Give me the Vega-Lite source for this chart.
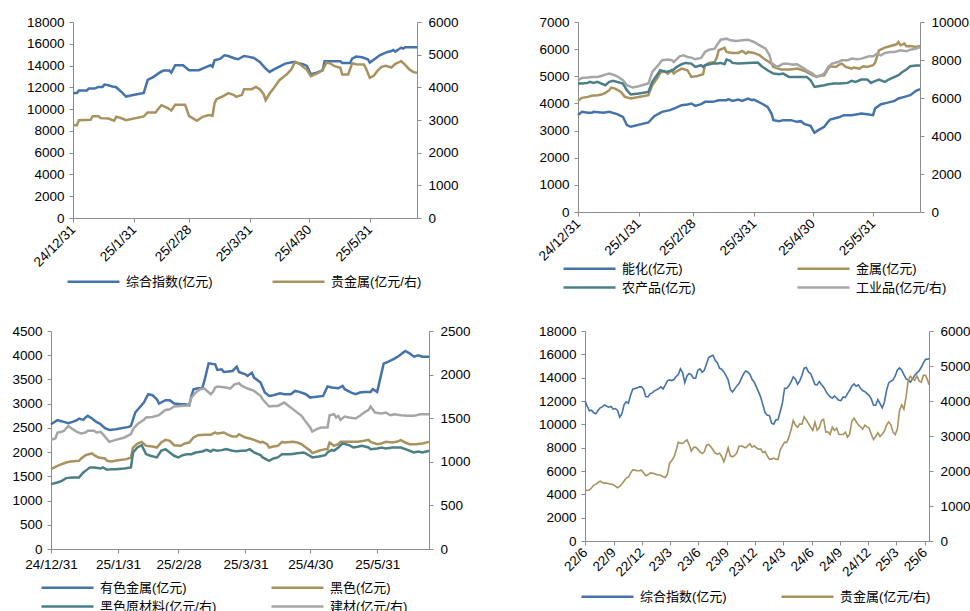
{
  "$schema": "https://vega.github.io/schema/vega-lite/v6.json",
  "background": "white",
  "padding": {"left": 8, "top": 15, "right": 0, "bottom": 0},
  "config": {
    "view": {"stroke": null},
    "font": "Liberation Sans",
    "axis": {"grid": false, "labelFont": "Liberation Sans", "labelFontSize": 13.5, "labelColor": "#000000", "domainColor": "#8C8C8C", "tickColor": "#8C8C8C", "tickSize": 4, "labelFlush": false, "labelOverlap": false},
    "legend": {"orient": "none", "columns": 2, "symbolType": "stroke", "symbolSize": 2704, "symbolStrokeWidth": 2.5, "clipHeight": 13, "labelFontSize": 13, "labelFont": "Liberation Sans, Noto Sans CJK SC", "labelColor": "#000000", "labelOffset": 5, "rowPadding": 5, "padding": 0, "labelLimit": 300}
  },
  "datasets": {
    "p1a": [{"date":"2024-12-31","value":11490},{"date":"2025-01-02","value":11490},{"date":"2025-01-03","value":11700},{"date":"2025-01-07","value":11700},{"date":"2025-01-08","value":11890},{"date":"2025-01-11","value":11890},{"date":"2025-01-13","value":12040},{"date":"2025-01-15","value":12040},{"date":"2025-01-16","value":12250},{"date":"2025-01-18","value":12190},{"date":"2025-01-20","value":12070},{"date":"2025-01-22","value":12010},{"date":"2025-01-25","value":11520},{"date":"2025-01-27","value":11150},{"date":"2025-01-30","value":11280},{"date":"2025-02-05","value":11490},{"date":"2025-02-07","value":12680},{"date":"2025-02-10","value":12960},{"date":"2025-02-13","value":13350},{"date":"2025-02-15","value":13540},{"date":"2025-02-18","value":13540},{"date":"2025-02-19","value":13350},{"date":"2025-02-21","value":14030},{"date":"2025-02-25","value":14030},{"date":"2025-02-28","value":13570},{"date":"2025-03-05","value":13570},{"date":"2025-03-08","value":13810},{"date":"2025-03-11","value":14030},{"date":"2025-03-12","value":13900},{"date":"2025-03-13","value":14480},{"date":"2025-03-16","value":14640},{"date":"2025-03-18","value":14940},{"date":"2025-03-20","value":14880},{"date":"2025-03-23","value":14670},{"date":"2025-03-25","value":14580},{"date":"2025-03-28","value":14880},{"date":"2025-03-30","value":14820},{"date":"2025-04-02","value":14700},{"date":"2025-04-05","value":14330},{"date":"2025-04-08","value":13720},{"date":"2025-04-10","value":13420},{"date":"2025-04-13","value":13720},{"date":"2025-04-16","value":14000},{"date":"2025-04-18","value":14180},{"date":"2025-04-22","value":14330},{"date":"2025-04-27","value":14120},{"date":"2025-04-29","value":13970},{"date":"2025-05-01","value":13200},{"date":"2025-05-04","value":13350},{"date":"2025-05-07","value":13570},{"date":"2025-05-08","value":14390},{"date":"2025-05-16","value":14390},{"date":"2025-05-17","value":14240},{"date":"2025-05-21","value":14240},{"date":"2025-05-22","value":14640},{"date":"2025-05-24","value":14820},{"date":"2025-05-27","value":14760},{"date":"2025-05-30","value":14580},{"date":"2025-05-31","value":14270},{"date":"2025-06-03","value":14670},{"date":"2025-06-05","value":14940},{"date":"2025-06-09","value":15250},{"date":"2025-06-11","value":15340},{"date":"2025-06-12","value":15430},{"date":"2025-06-13","value":15280},{"date":"2025-06-16","value":15650},{"date":"2025-06-17","value":15560},{"date":"2025-06-18","value":15680},{"date":"2025-06-24","value":15680}],
    "p1b": [{"date":"2024-12-31","value":2843},{"date":"2025-01-02","value":2843},{"date":"2025-01-03","value":2996},{"date":"2025-01-09","value":3006},{"date":"2025-01-10","value":3118},{"date":"2025-01-13","value":3118},{"date":"2025-01-14","value":3057},{"date":"2025-01-18","value":3047},{"date":"2025-01-21","value":2976},{"date":"2025-01-22","value":3098},{"date":"2025-01-24","value":3067},{"date":"2025-01-27","value":2996},{"date":"2025-02-05","value":3108},{"date":"2025-02-07","value":3230},{"date":"2025-02-11","value":3230},{"date":"2025-02-12","value":3312},{"date":"2025-02-14","value":3454},{"date":"2025-02-17","value":3373},{"date":"2025-02-19","value":3291},{"date":"2025-02-21","value":3465},{"date":"2025-02-26","value":3465},{"date":"2025-02-27","value":3302},{"date":"2025-02-28","value":3128},{"date":"2025-03-04","value":2976},{"date":"2025-03-07","value":3098},{"date":"2025-03-10","value":3149},{"date":"2025-03-12","value":3128},{"date":"2025-03-13","value":3516},{"date":"2025-03-14","value":3638},{"date":"2025-03-17","value":3719},{"date":"2025-03-20","value":3821},{"date":"2025-03-23","value":3760},{"date":"2025-03-24","value":3709},{"date":"2025-03-27","value":3770},{"date":"2025-03-28","value":3944},{"date":"2025-04-01","value":3944},{"date":"2025-04-03","value":4015},{"date":"2025-04-05","value":3944},{"date":"2025-04-07","value":3791},{"date":"2025-04-08","value":3607},{"date":"2025-04-10","value":3811},{"date":"2025-04-12","value":3964},{"date":"2025-04-15","value":4219},{"date":"2025-04-19","value":4412},{"date":"2025-04-21","value":4545},{"date":"2025-04-23","value":4779},{"date":"2025-04-25","value":4728},{"date":"2025-04-27","value":4626},{"date":"2025-04-29","value":4535},{"date":"2025-05-01","value":4341},{"date":"2025-05-04","value":4422},{"date":"2025-05-07","value":4525},{"date":"2025-05-09","value":4759},{"date":"2025-05-11","value":4728},{"date":"2025-05-13","value":4647},{"date":"2025-05-16","value":4596},{"date":"2025-05-17","value":4392},{"date":"2025-05-20","value":4392},{"date":"2025-05-22","value":4738},{"date":"2025-05-24","value":4708},{"date":"2025-05-28","value":4698},{"date":"2025-05-29","value":4586},{"date":"2025-05-31","value":4290},{"date":"2025-06-02","value":4351},{"date":"2025-06-04","value":4514},{"date":"2025-06-06","value":4626},{"date":"2025-06-08","value":4657},{"date":"2025-06-11","value":4606},{"date":"2025-06-13","value":4718},{"date":"2025-06-16","value":4799},{"date":"2025-06-18","value":4687},{"date":"2025-06-20","value":4555},{"date":"2025-06-22","value":4473},{"date":"2025-06-24","value":4443}],
    "p2a": [{"date":"2024-12-31","value":3568},{"date":"2025-01-02","value":3690},{"date":"2025-01-05","value":3653},{"date":"2025-01-07","value":3653},{"date":"2025-01-08","value":3690},{"date":"2025-01-13","value":3653},{"date":"2025-01-16","value":3690},{"date":"2025-01-20","value":3604},{"date":"2025-01-23","value":3506},{"date":"2025-01-25","value":3200},{"date":"2025-01-27","value":3139},{"date":"2025-02-05","value":3298},{"date":"2025-02-08","value":3531},{"date":"2025-02-12","value":3690},{"date":"2025-02-16","value":3752},{"date":"2025-02-19","value":3837},{"date":"2025-02-22","value":3935},{"date":"2025-02-25","value":3960},{"date":"2025-02-27","value":3997},{"date":"2025-03-01","value":3911},{"date":"2025-03-04","value":3972},{"date":"2025-03-06","value":4058},{"date":"2025-03-10","value":4058},{"date":"2025-03-13","value":4119},{"date":"2025-03-17","value":4119},{"date":"2025-03-18","value":4156},{"date":"2025-03-20","value":4095},{"date":"2025-03-23","value":4144},{"date":"2025-03-25","value":4095},{"date":"2025-03-28","value":4181},{"date":"2025-03-30","value":4119},{"date":"2025-03-31","value":4144},{"date":"2025-04-04","value":3997},{"date":"2025-04-07","value":3874},{"date":"2025-04-09","value":3629},{"date":"2025-04-10","value":3384},{"date":"2025-04-13","value":3347},{"date":"2025-04-15","value":3384},{"date":"2025-04-19","value":3384},{"date":"2025-04-22","value":3322},{"date":"2025-04-24","value":3347},{"date":"2025-04-26","value":3237},{"date":"2025-04-29","value":3175},{"date":"2025-05-01","value":2918},{"date":"2025-05-03","value":3016},{"date":"2025-05-06","value":3139},{"date":"2025-05-08","value":3322},{"date":"2025-05-09","value":3408},{"date":"2025-05-13","value":3482},{"date":"2025-05-14","value":3506},{"date":"2025-05-16","value":3568},{"date":"2025-05-20","value":3568},{"date":"2025-05-23","value":3604},{"date":"2025-05-25","value":3629},{"date":"2025-05-28","value":3604},{"date":"2025-05-31","value":3568},{"date":"2025-06-01","value":3813},{"date":"2025-06-04","value":3972},{"date":"2025-06-07","value":4021},{"date":"2025-06-11","value":4095},{"date":"2025-06-13","value":4181},{"date":"2025-06-16","value":4242},{"date":"2025-06-19","value":4303},{"date":"2025-06-22","value":4463},{"date":"2025-06-24","value":4524}],
    "p2b": [{"date":"2024-12-31","value":4095},{"date":"2025-01-02","value":4205},{"date":"2025-01-05","value":4242},{"date":"2025-01-07","value":4279},{"date":"2025-01-10","value":4303},{"date":"2025-01-12","value":4328},{"date":"2025-01-14","value":4389},{"date":"2025-01-16","value":4487},{"date":"2025-01-17","value":4585},{"date":"2025-01-19","value":4548},{"date":"2025-01-22","value":4426},{"date":"2025-01-24","value":4242},{"date":"2025-01-27","value":4181},{"date":"2025-02-05","value":4303},{"date":"2025-02-07","value":4671},{"date":"2025-02-10","value":4978},{"date":"2025-02-11","value":5125},{"date":"2025-02-13","value":5198},{"date":"2025-02-15","value":5100},{"date":"2025-02-17","value":5223},{"date":"2025-02-18","value":5100},{"date":"2025-02-19","value":5161},{"date":"2025-02-22","value":5284},{"date":"2025-02-25","value":5223},{"date":"2025-02-27","value":4978},{"date":"2025-03-02","value":5014},{"date":"2025-03-05","value":5076},{"date":"2025-03-06","value":5407},{"date":"2025-03-08","value":5492},{"date":"2025-03-11","value":5529},{"date":"2025-03-12","value":5689},{"date":"2025-03-13","value":5958},{"date":"2025-03-16","value":6044},{"date":"2025-03-17","value":5897},{"date":"2025-03-20","value":5860},{"date":"2025-03-23","value":5860},{"date":"2025-03-25","value":5934},{"date":"2025-03-27","value":5836},{"date":"2025-03-28","value":5897},{"date":"2025-03-31","value":5860},{"date":"2025-04-03","value":5774},{"date":"2025-04-05","value":5652},{"date":"2025-04-09","value":5468},{"date":"2025-04-10","value":5345},{"date":"2025-04-14","value":5247},{"date":"2025-04-16","value":5247},{"date":"2025-04-19","value":5247},{"date":"2025-04-22","value":5284},{"date":"2025-04-25","value":5223},{"date":"2025-04-27","value":5161},{"date":"2025-04-30","value":5039},{"date":"2025-05-02","value":4978},{"date":"2025-05-03","value":5014},{"date":"2025-05-06","value":5039},{"date":"2025-05-08","value":5284},{"date":"2025-05-09","value":5370},{"date":"2025-05-12","value":5345},{"date":"2025-05-14","value":5443},{"date":"2025-05-15","value":5468},{"date":"2025-05-17","value":5345},{"date":"2025-05-20","value":5284},{"date":"2025-05-21","value":5321},{"date":"2025-05-24","value":5284},{"date":"2025-05-26","value":5370},{"date":"2025-05-28","value":5345},{"date":"2025-05-31","value":5407},{"date":"2025-06-01","value":5492},{"date":"2025-06-03","value":5958},{"date":"2025-06-06","value":6056},{"date":"2025-06-09","value":6118},{"date":"2025-06-12","value":6179},{"date":"2025-06-13","value":6265},{"date":"2025-06-14","value":6142},{"date":"2025-06-16","value":6204},{"date":"2025-06-17","value":6105},{"date":"2025-06-19","value":6118},{"date":"2025-06-22","value":6081},{"date":"2025-06-24","value":6118}],
    "p2c": [{"date":"2024-12-31","value":4732},{"date":"2025-01-02","value":4732},{"date":"2025-01-05","value":4757},{"date":"2025-01-06","value":4794},{"date":"2025-01-08","value":4757},{"date":"2025-01-10","value":4794},{"date":"2025-01-12","value":4732},{"date":"2025-01-14","value":4671},{"date":"2025-01-16","value":4794},{"date":"2025-01-18","value":4830},{"date":"2025-01-20","value":4794},{"date":"2025-01-23","value":4732},{"date":"2025-01-25","value":4487},{"date":"2025-01-27","value":4328},{"date":"2025-01-31","value":4365},{"date":"2025-02-05","value":4426},{"date":"2025-02-07","value":4794},{"date":"2025-02-10","value":5100},{"date":"2025-02-11","value":5223},{"date":"2025-02-14","value":5161},{"date":"2025-02-16","value":5198},{"date":"2025-02-18","value":5247},{"date":"2025-02-19","value":5321},{"date":"2025-02-22","value":5443},{"date":"2025-02-24","value":5492},{"date":"2025-02-27","value":5468},{"date":"2025-03-01","value":5345},{"date":"2025-03-04","value":5407},{"date":"2025-03-05","value":5345},{"date":"2025-03-06","value":5407},{"date":"2025-03-10","value":5468},{"date":"2025-03-12","value":5468},{"date":"2025-03-14","value":5492},{"date":"2025-03-16","value":5443},{"date":"2025-03-17","value":5615},{"date":"2025-03-19","value":5566},{"date":"2025-03-20","value":5492},{"date":"2025-03-23","value":5468},{"date":"2025-03-28","value":5492},{"date":"2025-04-02","value":5505},{"date":"2025-04-04","value":5370},{"date":"2025-04-07","value":5223},{"date":"2025-04-10","value":5100},{"date":"2025-04-13","value":5076},{"date":"2025-04-15","value":5100},{"date":"2025-04-18","value":4978},{"date":"2025-04-20","value":4978},{"date":"2025-04-24","value":4978},{"date":"2025-04-27","value":4978},{"date":"2025-04-29","value":4855},{"date":"2025-05-01","value":4610},{"date":"2025-05-03","value":4634},{"date":"2025-05-06","value":4671},{"date":"2025-05-08","value":4708},{"date":"2025-05-11","value":4732},{"date":"2025-05-14","value":4732},{"date":"2025-05-18","value":4757},{"date":"2025-05-20","value":4830},{"date":"2025-05-22","value":4794},{"date":"2025-05-25","value":4880},{"date":"2025-05-28","value":4880},{"date":"2025-05-30","value":4757},{"date":"2025-05-31","value":4794},{"date":"2025-06-03","value":4880},{"date":"2025-06-06","value":4794},{"date":"2025-06-08","value":4880},{"date":"2025-06-11","value":4978},{"date":"2025-06-13","value":5039},{"date":"2025-06-15","value":5161},{"date":"2025-06-17","value":5247},{"date":"2025-06-19","value":5370},{"date":"2025-06-22","value":5394},{"date":"2025-06-24","value":5394}],
    "p2d": [{"date":"2024-12-31","value":6934},{"date":"2025-01-02","value":7059},{"date":"2025-01-05","value":7074},{"date":"2025-01-07","value":7109},{"date":"2025-01-10","value":7109},{"date":"2025-01-12","value":7161},{"date":"2025-01-14","value":7232},{"date":"2025-01-16","value":7284},{"date":"2025-01-18","value":7232},{"date":"2025-01-20","value":7144},{"date":"2025-01-23","value":6934},{"date":"2025-01-25","value":6671},{"date":"2025-01-28","value":6549},{"date":"2025-01-31","value":6619},{"date":"2025-02-05","value":6759},{"date":"2025-02-07","value":7372},{"date":"2025-02-10","value":7722},{"date":"2025-02-12","value":7985},{"date":"2025-02-15","value":8020},{"date":"2025-02-17","value":7985},{"date":"2025-02-18","value":7897},{"date":"2025-02-21","value":8195},{"date":"2025-02-23","value":8247},{"date":"2025-02-25","value":8160},{"date":"2025-02-27","value":8125},{"date":"2025-03-01","value":8037},{"date":"2025-03-04","value":8107},{"date":"2025-03-06","value":8422},{"date":"2025-03-08","value":8545},{"date":"2025-03-11","value":8597},{"date":"2025-03-12","value":8773},{"date":"2025-03-14","value":9070},{"date":"2025-03-17","value":9123},{"date":"2025-03-19","value":9035},{"date":"2025-03-22","value":9000},{"date":"2025-03-25","value":9035},{"date":"2025-03-28","value":9070},{"date":"2025-03-31","value":8948},{"date":"2025-04-03","value":8773},{"date":"2025-04-06","value":8597},{"date":"2025-04-08","value":8247},{"date":"2025-04-09","value":7844},{"date":"2025-04-12","value":7634},{"date":"2025-04-15","value":7809},{"date":"2025-04-17","value":7809},{"date":"2025-04-20","value":7757},{"date":"2025-04-22","value":7774},{"date":"2025-04-25","value":7599},{"date":"2025-04-27","value":7459},{"date":"2025-04-30","value":7284},{"date":"2025-05-02","value":7109},{"date":"2025-05-03","value":7144},{"date":"2025-05-06","value":7284},{"date":"2025-05-08","value":7634},{"date":"2025-05-10","value":7809},{"date":"2025-05-13","value":7897},{"date":"2025-05-15","value":7985},{"date":"2025-05-18","value":7985},{"date":"2025-05-20","value":8072},{"date":"2025-05-23","value":8037},{"date":"2025-05-25","value":8072},{"date":"2025-05-29","value":8195},{"date":"2025-05-31","value":8195},{"date":"2025-06-02","value":8335},{"date":"2025-06-04","value":8247},{"date":"2025-06-06","value":8370},{"date":"2025-06-09","value":8422},{"date":"2025-06-11","value":8422},{"date":"2025-06-14","value":8510},{"date":"2025-06-17","value":8457},{"date":"2025-06-19","value":8545},{"date":"2025-06-22","value":8597},{"date":"2025-06-24","value":8685}],
    "p3a": [{"date":"2024-12-31","value":2576},{"date":"2025-01-03","value":2659},{"date":"2025-01-06","value":2624},{"date":"2025-01-08","value":2597},{"date":"2025-01-10","value":2624},{"date":"2025-01-12","value":2659},{"date":"2025-01-13","value":2693},{"date":"2025-01-15","value":2666},{"date":"2025-01-16","value":2714},{"date":"2025-01-17","value":2748},{"date":"2025-01-19","value":2693},{"date":"2025-01-21","value":2624},{"date":"2025-01-23","value":2576},{"date":"2025-01-25","value":2494},{"date":"2025-01-27","value":2459},{"date":"2025-01-30","value":2473},{"date":"2025-02-05","value":2521},{"date":"2025-02-06","value":2542},{"date":"2025-02-08","value":2817},{"date":"2025-02-10","value":2920},{"date":"2025-02-12","value":3023},{"date":"2025-02-14","value":3195},{"date":"2025-02-16","value":3174},{"date":"2025-02-18","value":3092},{"date":"2025-02-19","value":3002},{"date":"2025-02-22","value":3071},{"date":"2025-02-24","value":3071},{"date":"2025-02-26","value":3002},{"date":"2025-03-01","value":2988},{"date":"2025-03-03","value":2988},{"date":"2025-03-05","value":2968},{"date":"2025-03-06","value":3160},{"date":"2025-03-07","value":3298},{"date":"2025-03-09","value":3318},{"date":"2025-03-11","value":3318},{"date":"2025-03-12","value":3469},{"date":"2025-03-14","value":3833},{"date":"2025-03-17","value":3813},{"date":"2025-03-18","value":3696},{"date":"2025-03-20","value":3710},{"date":"2025-03-21","value":3655},{"date":"2025-03-23","value":3662},{"date":"2025-03-25","value":3675},{"date":"2025-03-27","value":3765},{"date":"2025-03-28","value":3655},{"date":"2025-03-31","value":3607},{"date":"2025-04-01","value":3572},{"date":"2025-04-03","value":3641},{"date":"2025-04-04","value":3538},{"date":"2025-04-07","value":3435},{"date":"2025-04-08","value":3332},{"date":"2025-04-09","value":3229},{"date":"2025-04-11","value":3160},{"date":"2025-04-13","value":3174},{"date":"2025-04-16","value":3215},{"date":"2025-04-18","value":3195},{"date":"2025-04-21","value":3195},{"date":"2025-04-23","value":3263},{"date":"2025-04-25","value":3243},{"date":"2025-04-28","value":3195},{"date":"2025-04-30","value":3126},{"date":"2025-05-02","value":3140},{"date":"2025-05-06","value":3160},{"date":"2025-05-08","value":3353},{"date":"2025-05-10","value":3332},{"date":"2025-05-13","value":3318},{"date":"2025-05-15","value":3366},{"date":"2025-05-16","value":3298},{"date":"2025-05-19","value":3229},{"date":"2025-05-21","value":3195},{"date":"2025-05-23","value":3229},{"date":"2025-05-25","value":3243},{"date":"2025-05-28","value":3243},{"date":"2025-05-29","value":3298},{"date":"2025-05-31","value":3243},{"date":"2025-06-03","value":3827},{"date":"2025-06-05","value":3861},{"date":"2025-06-08","value":3930},{"date":"2025-06-10","value":3985},{"date":"2025-06-13","value":4088},{"date":"2025-06-15","value":4040},{"date":"2025-06-17","value":3971},{"date":"2025-06-19","value":3998},{"date":"2025-06-21","value":3971},{"date":"2025-06-24","value":3971}],
    "p3b": [{"date":"2024-12-31","value":1649},{"date":"2025-01-03","value":1718},{"date":"2025-01-05","value":1752},{"date":"2025-01-07","value":1786},{"date":"2025-01-09","value":1807},{"date":"2025-01-13","value":1821},{"date":"2025-01-14","value":1869},{"date":"2025-01-16","value":1937},{"date":"2025-01-19","value":1972},{"date":"2025-01-20","value":1937},{"date":"2025-01-22","value":1889},{"date":"2025-01-25","value":1869},{"date":"2025-01-26","value":1821},{"date":"2025-01-28","value":1807},{"date":"2025-01-31","value":1834},{"date":"2025-02-04","value":1855},{"date":"2025-02-06","value":1889},{"date":"2025-02-07","value":2095},{"date":"2025-02-09","value":2178},{"date":"2025-02-11","value":2212},{"date":"2025-02-13","value":2130},{"date":"2025-02-16","value":2116},{"date":"2025-02-18","value":2095},{"date":"2025-02-20","value":2198},{"date":"2025-02-22","value":2253},{"date":"2025-02-24","value":2233},{"date":"2025-02-26","value":2143},{"date":"2025-03-01","value":2130},{"date":"2025-03-03","value":2178},{"date":"2025-03-05","value":2198},{"date":"2025-03-07","value":2301},{"date":"2025-03-09","value":2350},{"date":"2025-03-12","value":2356},{"date":"2025-03-15","value":2356},{"date":"2025-03-17","value":2405},{"date":"2025-03-18","value":2384},{"date":"2025-03-21","value":2405},{"date":"2025-03-23","value":2356},{"date":"2025-03-25","value":2322},{"date":"2025-03-27","value":2322},{"date":"2025-03-28","value":2370},{"date":"2025-03-31","value":2301},{"date":"2025-04-02","value":2281},{"date":"2025-04-04","value":2253},{"date":"2025-04-07","value":2198},{"date":"2025-04-08","value":2212},{"date":"2025-04-10","value":2164},{"date":"2025-04-11","value":2095},{"date":"2025-04-13","value":2116},{"date":"2025-04-15","value":2130},{"date":"2025-04-17","value":2212},{"date":"2025-04-18","value":2198},{"date":"2025-04-22","value":2212},{"date":"2025-04-24","value":2198},{"date":"2025-04-26","value":2164},{"date":"2025-04-28","value":2095},{"date":"2025-04-30","value":2027},{"date":"2025-05-01","value":1979},{"date":"2025-05-04","value":2027},{"date":"2025-05-07","value":2061},{"date":"2025-05-08","value":2061},{"date":"2025-05-09","value":2198},{"date":"2025-05-11","value":2130},{"date":"2025-05-13","value":2164},{"date":"2025-05-14","value":2212},{"date":"2025-05-18","value":2212},{"date":"2025-05-22","value":2212},{"date":"2025-05-25","value":2233},{"date":"2025-05-27","value":2253},{"date":"2025-05-28","value":2212},{"date":"2025-05-31","value":2164},{"date":"2025-06-02","value":2178},{"date":"2025-06-04","value":2212},{"date":"2025-06-07","value":2198},{"date":"2025-06-09","value":2212},{"date":"2025-06-11","value":2246},{"date":"2025-06-13","value":2198},{"date":"2025-06-15","value":2164},{"date":"2025-06-18","value":2164},{"date":"2025-06-21","value":2178},{"date":"2025-06-24","value":2212}],
    "p3c": [{"date":"2024-12-31","value":744},{"date":"2025-01-03","value":763},{"date":"2025-01-05","value":782},{"date":"2025-01-07","value":813},{"date":"2025-01-10","value":821},{"date":"2025-01-13","value":821},{"date":"2025-01-15","value":878},{"date":"2025-01-17","value":916},{"date":"2025-01-18","value":935},{"date":"2025-01-20","value":935},{"date":"2025-01-23","value":924},{"date":"2025-01-24","value":935},{"date":"2025-01-26","value":908},{"date":"2025-01-28","value":916},{"date":"2025-01-30","value":916},{"date":"2025-02-03","value":924},{"date":"2025-02-06","value":935},{"date":"2025-02-07","value":1107},{"date":"2025-02-09","value":1164},{"date":"2025-02-11","value":1191},{"date":"2025-02-13","value":1088},{"date":"2025-02-15","value":1069},{"date":"2025-02-18","value":1050},{"date":"2025-02-20","value":1126},{"date":"2025-02-22","value":1145},{"date":"2025-02-24","value":1107},{"date":"2025-02-26","value":1069},{"date":"2025-02-28","value":1050},{"date":"2025-03-02","value":1076},{"date":"2025-03-04","value":1088},{"date":"2025-03-06","value":1088},{"date":"2025-03-08","value":1107},{"date":"2025-03-11","value":1118},{"date":"2025-03-13","value":1137},{"date":"2025-03-15","value":1118},{"date":"2025-03-16","value":1137},{"date":"2025-03-18","value":1126},{"date":"2025-03-20","value":1134},{"date":"2025-03-22","value":1145},{"date":"2025-03-25","value":1126},{"date":"2025-03-27","value":1122},{"date":"2025-03-29","value":1126},{"date":"2025-03-31","value":1126},{"date":"2025-04-02","value":1145},{"date":"2025-04-04","value":1107},{"date":"2025-04-07","value":1076},{"date":"2025-04-08","value":1050},{"date":"2025-04-11","value":1012},{"date":"2025-04-13","value":1038},{"date":"2025-04-15","value":1050},{"date":"2025-04-17","value":1088},{"date":"2025-04-21","value":1088},{"date":"2025-04-24","value":1099},{"date":"2025-04-27","value":1107},{"date":"2025-04-28","value":1095},{"date":"2025-05-01","value":1050},{"date":"2025-05-04","value":1061},{"date":"2025-05-07","value":1076},{"date":"2025-05-08","value":1107},{"date":"2025-05-10","value":1137},{"date":"2025-05-11","value":1126},{"date":"2025-05-13","value":1164},{"date":"2025-05-15","value":1210},{"date":"2025-05-18","value":1191},{"date":"2025-05-20","value":1164},{"date":"2025-05-22","value":1172},{"date":"2025-05-24","value":1183},{"date":"2025-05-27","value":1164},{"date":"2025-05-28","value":1145},{"date":"2025-05-31","value":1153},{"date":"2025-06-02","value":1164},{"date":"2025-06-04","value":1153},{"date":"2025-06-07","value":1164},{"date":"2025-06-11","value":1164},{"date":"2025-06-14","value":1137},{"date":"2025-06-17","value":1107},{"date":"2025-06-19","value":1118},{"date":"2025-06-21","value":1107},{"date":"2025-06-24","value":1126}],
    "p3d": [{"date":"2024-12-31","value":1252},{"date":"2025-01-02","value":1267},{"date":"2025-01-03","value":1336},{"date":"2025-01-05","value":1344},{"date":"2025-01-06","value":1355},{"date":"2025-01-08","value":1412},{"date":"2025-01-10","value":1374},{"date":"2025-01-12","value":1344},{"date":"2025-01-14","value":1325},{"date":"2025-01-16","value":1336},{"date":"2025-01-17","value":1355},{"date":"2025-01-20","value":1355},{"date":"2025-01-21","value":1336},{"date":"2025-01-23","value":1344},{"date":"2025-01-24","value":1317},{"date":"2025-01-27","value":1229},{"date":"2025-01-30","value":1252},{"date":"2025-02-03","value":1279},{"date":"2025-02-06","value":1317},{"date":"2025-02-07","value":1374},{"date":"2025-02-09","value":1431},{"date":"2025-02-12","value":1481},{"date":"2025-02-13","value":1508},{"date":"2025-02-16","value":1515},{"date":"2025-02-19","value":1534},{"date":"2025-02-20","value":1557},{"date":"2025-02-22","value":1595},{"date":"2025-02-24","value":1603},{"date":"2025-02-26","value":1634},{"date":"2025-03-01","value":1641},{"date":"2025-03-05","value":1649},{"date":"2025-03-06","value":1737},{"date":"2025-03-08","value":1794},{"date":"2025-03-10","value":1832},{"date":"2025-03-12","value":1840},{"date":"2025-03-15","value":1775},{"date":"2025-03-16","value":1802},{"date":"2025-03-17","value":1851},{"date":"2025-03-18","value":1863},{"date":"2025-03-22","value":1851},{"date":"2025-03-24","value":1840},{"date":"2025-03-26","value":1889},{"date":"2025-03-28","value":1901},{"date":"2025-03-29","value":1878},{"date":"2025-03-31","value":1851},{"date":"2025-04-02","value":1832},{"date":"2025-04-04","value":1813},{"date":"2025-04-07","value":1756},{"date":"2025-04-08","value":1718},{"date":"2025-04-10","value":1660},{"date":"2025-04-11","value":1634},{"date":"2025-04-13","value":1641},{"date":"2025-04-15","value":1641},{"date":"2025-04-18","value":1679},{"date":"2025-04-21","value":1622},{"date":"2025-04-23","value":1584},{"date":"2025-04-26","value":1527},{"date":"2025-04-28","value":1458},{"date":"2025-04-30","value":1393},{"date":"2025-05-01","value":1347},{"date":"2025-05-03","value":1374},{"date":"2025-05-05","value":1393},{"date":"2025-05-08","value":1393},{"date":"2025-05-09","value":1534},{"date":"2025-05-11","value":1546},{"date":"2025-05-12","value":1508},{"date":"2025-05-13","value":1527},{"date":"2025-05-14","value":1481},{"date":"2025-05-16","value":1519},{"date":"2025-05-18","value":1508},{"date":"2025-05-21","value":1496},{"date":"2025-05-23","value":1527},{"date":"2025-05-25","value":1565},{"date":"2025-05-27","value":1595},{"date":"2025-05-28","value":1634},{"date":"2025-05-30","value":1565},{"date":"2025-06-02","value":1553},{"date":"2025-06-04","value":1565},{"date":"2025-06-06","value":1534},{"date":"2025-06-08","value":1546},{"date":"2025-06-11","value":1534},{"date":"2025-06-14","value":1527},{"date":"2025-06-17","value":1527},{"date":"2025-06-20","value":1546},{"date":"2025-06-24","value":1546}],
    "p4": [{"date":"2022-06-10","composite":12011,"precious":1464},{"date":"2022-06-17","composite":11557,"precious":1445},{"date":"2022-06-24","composite":11157,"precious":1455},{"date":"2022-07-01","composite":11214,"precious":1512},{"date":"2022-07-08","composite":10985,"precious":1598},{"date":"2022-07-15","composite":10900,"precious":1617},{"date":"2022-07-22","composite":11184,"precious":1674},{"date":"2022-07-29","composite":11412,"precious":1712},{"date":"2022-08-05","composite":11497,"precious":1674},{"date":"2022-08-12","composite":11668,"precious":1655},{"date":"2022-08-19","composite":11554,"precious":1655},{"date":"2022-08-26","composite":11469,"precious":1636},{"date":"2022-09-02","composite":11526,"precious":1626},{"date":"2022-09-09","composite":11298,"precious":1607},{"date":"2022-09-16","composite":11355,"precious":1569},{"date":"2022-09-23","composite":11184,"precious":1521},{"date":"2022-09-30","composite":10614,"precious":1559},{"date":"2022-10-07","composite":10898,"precious":1626},{"date":"2022-10-14","composite":11668,"precious":1712},{"date":"2022-10-21","composite":11925,"precious":1797},{"date":"2022-10-28","composite":11811,"precious":1826},{"date":"2022-11-04","composite":12496,"precious":1940},{"date":"2022-11-11","composite":13010,"precious":2035},{"date":"2022-11-18","composite":13067,"precious":2025},{"date":"2022-11-25","composite":13124,"precious":2006},{"date":"2022-12-02","composite":13209,"precious":2006},{"date":"2022-12-09","composite":13209,"precious":2025},{"date":"2022-12-16","composite":13010,"precious":1949},{"date":"2022-12-23","composite":12382,"precious":1864},{"date":"2022-12-30","composite":12354,"precious":1892},{"date":"2023-01-06","composite":12610,"precious":1940},{"date":"2023-01-13","composite":12696,"precious":1940},{"date":"2023-01-20","composite":12867,"precious":1921},{"date":"2023-01-27","composite":12953,"precious":1892},{"date":"2023-02-03","composite":13067,"precious":1892},{"date":"2023-02-10","composite":13209,"precious":1873},{"date":"2023-02-17","composite":13038,"precious":1835},{"date":"2023-02-24","composite":13352,"precious":1816},{"date":"2023-03-03","composite":13723,"precious":1911},{"date":"2023-03-10","composite":13809,"precious":2225},{"date":"2023-03-17","composite":13752,"precious":2301},{"date":"2023-03-24","composite":13838,"precious":2396},{"date":"2023-03-31","composite":14094,"precious":2586},{"date":"2023-04-07","composite":14271,"precious":2824},{"date":"2023-04-14","composite":14750,"precious":2796},{"date":"2023-04-21","composite":14436,"precious":2786},{"date":"2023-04-28","composite":13580,"precious":2843},{"date":"2023-05-05","composite":14151,"precious":2891},{"date":"2023-05-12","composite":14351,"precious":2758},{"date":"2023-05-19","composite":14242,"precious":2567},{"date":"2023-05-26","composite":13951,"precious":2672},{"date":"2023-06-02","composite":13951,"precious":2682},{"date":"2023-06-09","composite":14636,"precious":2624},{"date":"2023-06-16","composite":14750,"precious":2548},{"date":"2023-06-23","composite":14465,"precious":2501},{"date":"2023-06-30","composite":14636,"precious":2548},{"date":"2023-07-07","composite":15178,"precious":2739},{"date":"2023-07-14","composite":15720,"precious":2758},{"date":"2023-07-21","composite":15834,"precious":2691},{"date":"2023-07-28","composite":15920,"precious":2605},{"date":"2023-08-04","composite":15492,"precious":2510},{"date":"2023-08-11","composite":15292,"precious":2482},{"date":"2023-08-18","composite":14807,"precious":2510},{"date":"2023-08-25","composite":14721,"precious":2415},{"date":"2023-09-01","composite":14493,"precious":2263},{"date":"2023-09-08","composite":14179,"precious":2444},{"date":"2023-09-15","composite":13809,"precious":2663},{"date":"2023-09-22","composite":12981,"precious":2434},{"date":"2023-09-29","composite":12781,"precious":2406},{"date":"2023-10-06","composite":13038,"precious":2444},{"date":"2023-10-13","composite":13295,"precious":2520},{"date":"2023-10-20","composite":13495,"precious":2710},{"date":"2023-10-27","composite":13894,"precious":2720},{"date":"2023-11-03","composite":14294,"precious":2691},{"date":"2023-11-10","composite":14579,"precious":2663},{"date":"2023-11-17","composite":14493,"precious":2720},{"date":"2023-11-24","composite":14294,"precious":2777},{"date":"2023-12-01","composite":13866,"precious":2682},{"date":"2023-12-08","composite":13609,"precious":2720},{"date":"2023-12-15","composite":13209,"precious":2663},{"date":"2023-12-22","composite":12781,"precious":2624},{"date":"2023-12-29","composite":12325,"precious":2624},{"date":"2024-01-05","composite":11669,"precious":2529},{"date":"2024-01-12","composite":11013,"precious":2558},{"date":"2024-01-19","composite":10784,"precious":2434},{"date":"2024-01-26","composite":10756,"precious":2339},{"date":"2024-02-02","composite":10100,"precious":2339},{"date":"2024-02-09","composite":10014,"precious":2368},{"date":"2024-02-16","composite":10385,"precious":2339},{"date":"2024-02-23","composite":10413,"precious":2330},{"date":"2024-03-01","composite":11098,"precious":2605},{"date":"2024-03-08","composite":11811,"precious":2720},{"date":"2024-03-15","composite":13095,"precious":2824},{"date":"2024-03-22","composite":13095,"precious":2815},{"date":"2024-03-29","composite":13295,"precious":2967},{"date":"2024-04-05","composite":13637,"precious":3176},{"date":"2024-04-12","composite":14065,"precious":3442},{"date":"2024-04-19","composite":13866,"precious":3309},{"date":"2024-04-26","composite":13438,"precious":3252},{"date":"2024-05-03","composite":13723,"precious":3347},{"date":"2024-05-10","composite":14179,"precious":3338},{"date":"2024-05-17","composite":14807,"precious":3547},{"date":"2024-05-24","composite":14864,"precious":3461},{"date":"2024-05-31","composite":14493,"precious":3357},{"date":"2024-06-07","composite":14351,"precious":3252},{"date":"2024-06-14","composite":13894,"precious":3157},{"date":"2024-06-21","composite":13409,"precious":3395},{"date":"2024-06-28","composite":13381,"precious":3166},{"date":"2024-07-05","composite":13666,"precious":3233},{"date":"2024-07-12","composite":13409,"precious":3442},{"date":"2024-07-19","composite":13181,"precious":3480},{"date":"2024-07-26","composite":12839,"precious":3109},{"date":"2024-08-02","composite":12553,"precious":3119},{"date":"2024-08-09","composite":12382,"precious":3043},{"date":"2024-08-16","composite":12239,"precious":3252},{"date":"2024-08-23","composite":12439,"precious":3157},{"date":"2024-08-30","composite":12239,"precious":3224},{"date":"2024-09-06","composite":12068,"precious":3052},{"date":"2024-09-13","composite":12040,"precious":3043},{"date":"2024-09-20","composite":12353,"precious":3043},{"date":"2024-09-27","composite":12296,"precious":3109},{"date":"2024-10-04","composite":12639,"precious":2967},{"date":"2024-10-11","composite":12924,"precious":3052},{"date":"2024-10-18","composite":13266,"precious":3423},{"date":"2024-10-25","composite":13466,"precious":3509},{"date":"2024-11-01","composite":13266,"precious":3414},{"date":"2024-11-08","composite":13381,"precious":3319},{"date":"2024-11-15","composite":13095,"precious":3262},{"date":"2024-11-22","composite":12896,"precious":3195},{"date":"2024-11-29","composite":12810,"precious":3309},{"date":"2024-12-06","composite":12639,"precious":3262},{"date":"2024-12-13","composite":12468,"precious":3224},{"date":"2024-12-20","composite":12154,"precious":3043},{"date":"2024-12-27","composite":11640,"precious":2900},{"date":"2025-01-03","composite":11640,"precious":2986},{"date":"2025-01-10","composite":12125,"precious":3090},{"date":"2025-01-17","composite":11783,"precious":2986},{"date":"2025-01-24","composite":11412,"precious":3052},{"date":"2025-01-31","composite":11897,"precious":3138},{"date":"2025-02-07","composite":12896,"precious":3309},{"date":"2025-02-14","composite":13552,"precious":3404},{"date":"2025-02-21","composite":13694,"precious":3319},{"date":"2025-02-28","composite":13809,"precious":3109},{"date":"2025-03-07","composite":14151,"precious":3043},{"date":"2025-03-14","composite":14664,"precious":3204},{"date":"2025-03-21","composite":14836,"precious":3728},{"date":"2025-03-28","composite":14636,"precious":3889},{"date":"2025-04-04","composite":14265,"precious":3766},{"date":"2025-04-11","composite":13894,"precious":4108},{"date":"2025-04-18","composite":13809,"precious":4593},{"date":"2025-04-25","composite":13609,"precious":4707},{"date":"2025-05-02","composite":13894,"precious":4640},{"date":"2025-05-09","composite":14208,"precious":4593},{"date":"2025-05-16","composite":14408,"precious":4716},{"date":"2025-05-23","composite":14579,"precious":4574},{"date":"2025-05-30","composite":14893,"precious":4536},{"date":"2025-06-06","composite":15264,"precious":4735},{"date":"2025-06-13","composite":15577,"precious":4735},{"date":"2025-06-20","composite":15577,"precious":4583},{"date":"2025-06-24","composite":15650,"precious":4460}],
    "empty": []
  },
  "spacing": 29,
  "resolve": {"scale": {"color": "independent"}, "legend": {"color": "independent"}},
  "vconcat": [
    {
      "hconcat": [
        {"width": 1, "height": 1, "data": {"name": "empty"}, "mark": {"type": "point"}, "encoding": {}},
        {
          "hconcat": [
            {
              "width": 344, "height": 196,
              "encoding": {"x": {"field": "date", "type": "temporal", "scale": {"type": "utc", "domain": [{"year": 2024, "month": 12, "date": 31, "utc": true}, {"year": 2025, "month": 6, "date": 24, "utc": true}]}, "axis": {"title": null, "labelExpr": "utcFormat(datum.value, '%y/%-m/%-d')", "labelAngle": -45, "labelAlign": "right", "labelBaseline": "middle", "labelPadding": 5, "values": [{"year": 2024, "month": 12, "date": 31, "utc": true}, {"year": 2025, "month": 1, "date": 31, "utc": true}, {"year": 2025, "month": 2, "date": 28, "utc": true}, {"year": 2025, "month": 3, "date": 31, "utc": true}, {"year": 2025, "month": 4, "date": 30, "utc": true}, {"year": 2025, "month": 5, "date": 31, "utc": true}]}}},
              "layer": [
                {"data": {"name": "p1a"}, "mark": {"type": "line", "strokeWidth": 2.5}, "encoding": {"y": {"field": "value", "type": "quantitative", "scale": {"domain": [0, 18000], "nice": false}, "axis": {"orient": "left", "values": [0, 2000, 4000, 6000, 8000, 10000, 12000, 14000, 16000, 18000], "format": "d", "labelPadding": 5, "title": null}}, "color": {"datum": "综合指数(亿元)", "type": "nominal", "scale": {"domain": ["综合指数(亿元)", "贵金属(亿元/右)"], "range": ["#4472AA", "#A8925E"]}, "legend": {"title": null, "legendX": -7, "legendY": 253, "columnPadding": 58}}}},
                {"data": {"name": "p1b"}, "mark": {"type": "line", "strokeWidth": 2.5}, "encoding": {"y": {"field": "value", "type": "quantitative", "scale": {"domain": [0, 6000], "nice": false}, "axis": {"orient": "right", "values": [0, 1000, 2000, 3000, 4000, 5000, 6000], "format": "d", "labelPadding": 7, "title": null}}, "color": {"datum": "贵金属(亿元/右)", "type": "nominal"}}}
              ],
              "resolve": {"scale": {"y": "independent"}}
            },
            {
              "width": 342, "height": 190,
              "encoding": {"x": {"field": "date", "type": "temporal", "scale": {"type": "utc", "domain": [{"year": 2024, "month": 12, "date": 31, "utc": true}, {"year": 2025, "month": 6, "date": 24, "utc": true}]}, "axis": {"title": null, "labelExpr": "utcFormat(datum.value, '%y/%-m/%-d')", "labelAngle": -45, "labelAlign": "right", "labelBaseline": "middle", "labelPadding": 5, "values": [{"year": 2024, "month": 12, "date": 31, "utc": true}, {"year": 2025, "month": 1, "date": 31, "utc": true}, {"year": 2025, "month": 2, "date": 28, "utc": true}, {"year": 2025, "month": 3, "date": 31, "utc": true}, {"year": 2025, "month": 4, "date": 30, "utc": true}, {"year": 2025, "month": 5, "date": 31, "utc": true}]}}},
              "layer": [
                {"data": {"name": "p2a"}, "mark": {"type": "line", "strokeWidth": 2.5}, "encoding": {"y": {"field": "value", "type": "quantitative", "scale": {"domain": [0, 7000], "nice": false}, "axis": {"orient": "left", "values": [0, 1000, 2000, 3000, 4000, 5000, 6000, 7000], "format": "d", "labelPadding": 5, "title": null}}, "color": {"datum": "能化(亿元)", "type": "nominal", "scale": {"domain": ["能化(亿元)", "农产品(亿元)", "金属(亿元)", "工业品(亿元/右)"], "range": ["#4472AA", "#4B7F87", "#A8925E", "#A6A6A6"]}, "legend": {"title": null, "legendX": -16, "legendY": 240, "columnPadding": 100}}}},
                {"data": {"name": "p2b"}, "mark": {"type": "line", "strokeWidth": 2.5}, "encoding": {"y": {"field": "value", "type": "quantitative", "scale": {"domain": [0, 7000], "nice": false}, "axis": null}, "color": {"datum": "金属(亿元)", "type": "nominal"}}},
                {"data": {"name": "p2c"}, "mark": {"type": "line", "strokeWidth": 2.5}, "encoding": {"y": {"field": "value", "type": "quantitative", "scale": {"domain": [0, 7000], "nice": false}, "axis": null}, "color": {"datum": "农产品(亿元)", "type": "nominal"}}},
                {"data": {"name": "p2d"}, "mark": {"type": "line", "strokeWidth": 2.5}, "encoding": {"y": {"field": "value", "type": "quantitative", "scale": {"domain": [0, 10000], "nice": false}, "axis": {"orient": "right", "values": [0, 2000, 4000, 6000, 8000, 10000], "format": "d", "labelPadding": 7, "title": null}}, "color": {"datum": "工业品(亿元/右)", "type": "nominal"}}}
              ],
              "resolve": {"scale": {"y": "independent"}}
            }
          ],
          "spacing": 76,
          "resolve": {"scale": {"color": "independent"}, "legend": {"color": "independent"}}
        }
      ],
      "spacing": 17,
      "resolve": {"scale": {"color": "independent"}, "legend": {"color": "independent"}}
    },
    {
      "hconcat": [
        {"width": 1, "height": 1, "data": {"name": "empty"}, "mark": {"type": "point"}, "encoding": {}},
        {
          "hconcat": [
            {
              "width": 378, "height": 218,
              "encoding": {"x": {"field": "date", "type": "temporal", "scale": {"type": "utc", "domain": [{"year": 2024, "month": 12, "date": 31, "utc": true}, {"year": 2025, "month": 6, "date": 24, "utc": true}]}, "axis": {"title": null, "labelExpr": "utcFormat(datum.value, '%y/%-m/%-d')", "labelAngle": 0, "labelAlign": "center", "labelBaseline": "top", "labelPadding": 4, "values": [{"year": 2024, "month": 12, "date": 31, "utc": true}, {"year": 2025, "month": 1, "date": 31, "utc": true}, {"year": 2025, "month": 2, "date": 28, "utc": true}, {"year": 2025, "month": 3, "date": 31, "utc": true}, {"year": 2025, "month": 4, "date": 30, "utc": true}, {"year": 2025, "month": 5, "date": 31, "utc": true}]}}},
              "layer": [
                {"data": {"name": "p3a"}, "mark": {"type": "line", "strokeWidth": 2.5}, "encoding": {"y": {"field": "value", "type": "quantitative", "scale": {"domain": [0, 4500], "nice": false}, "axis": {"orient": "left", "values": [0, 500, 1000, 1500, 2000, 2500, 3000, 3500, 4000, 4500], "format": "d", "labelPadding": 5, "title": null}}, "color": {"datum": "有色金属(亿元)", "type": "nominal", "scale": {"domain": ["有色金属(亿元)", "黑色原材料(亿元/右)", "黑色(亿元)", "建材(亿元/右)"], "range": ["#4472AA", "#4B7F87", "#A8925E", "#A6A6A6"]}, "legend": {"title": null, "legendX": -11, "legendY": 250, "columnPadding": 53}}}},
                {"data": {"name": "p3b"}, "mark": {"type": "line", "strokeWidth": 2.5}, "encoding": {"y": {"field": "value", "type": "quantitative", "scale": {"domain": [0, 4500], "nice": false}, "axis": null}, "color": {"datum": "黑色(亿元)", "type": "nominal"}}},
                {"data": {"name": "p3c"}, "mark": {"type": "line", "strokeWidth": 2.5}, "encoding": {"y": {"field": "value", "type": "quantitative", "scale": {"domain": [0, 2500], "nice": false}, "axis": {"orient": "right", "values": [0, 500, 1000, 1500, 2000, 2500], "format": "d", "labelPadding": 7, "title": null}}, "color": {"datum": "黑色原材料(亿元/右)", "type": "nominal"}}},
                {"data": {"name": "p3d"}, "mark": {"type": "line", "strokeWidth": 2.5}, "encoding": {"y": {"field": "value", "type": "quantitative", "scale": {"domain": [0, 2500], "nice": false}, "axis": null}, "color": {"datum": "建材(亿元/右)", "type": "nominal"}}}
              ],
              "resolve": {"scale": {"y": "independent"}}
            },
            {
              "width": 344, "height": 210,
              "data": {"name": "p4"},
              "encoding": {"x": {"field": "date", "type": "temporal", "scale": {"type": "utc", "domain": [{"year": 2022, "month": 6, "date": 10, "utc": true}, {"year": 2025, "month": 6, "date": 24, "utc": true}]}, "axis": {"title": null, "labelExpr": "utcFormat(datum.value, '%y/%-m')", "labelAngle": -45, "labelAlign": "right", "labelBaseline": "middle", "labelPadding": 5, "values": [{"year": 2022, "month": 6, "date": 10, "utc": true}, {"year": 2022, "month": 9, "date": 10, "utc": true}, {"year": 2022, "month": 12, "date": 10, "utc": true}, {"year": 2023, "month": 3, "date": 10, "utc": true}, {"year": 2023, "month": 6, "date": 10, "utc": true}, {"year": 2023, "month": 9, "date": 10, "utc": true}, {"year": 2023, "month": 12, "date": 10, "utc": true}, {"year": 2024, "month": 3, "date": 10, "utc": true}, {"year": 2024, "month": 6, "date": 10, "utc": true}, {"year": 2024, "month": 9, "date": 10, "utc": true}, {"year": 2024, "month": 12, "date": 10, "utc": true}, {"year": 2025, "month": 3, "date": 10, "utc": true}, {"year": 2025, "month": 6, "date": 10, "utc": true}]}}},
              "layer": [
                {"mark": {"type": "line", "strokeWidth": 1.6}, "encoding": {"y": {"field": "composite", "type": "quantitative", "scale": {"domain": [0, 18000], "nice": false}, "axis": {"orient": "left", "values": [0, 2000, 4000, 6000, 8000, 10000, 12000, 14000, 16000, 18000], "format": "d", "labelPadding": 5, "title": null}}, "color": {"datum": "综合指数(亿元)", "type": "nominal", "scale": {"domain": ["综合指数(亿元)", "贵金属(亿元/右)"], "range": ["#4472AA", "#A8925E"]}, "legend": {"title": null, "legendX": -5, "legendY": 259, "columnPadding": 53}}}},
                {"mark": {"type": "line", "strokeWidth": 1.6}, "encoding": {"y": {"field": "precious", "type": "quantitative", "scale": {"domain": [0, 6000], "nice": false}, "axis": {"orient": "right", "values": [0, 1000, 2000, 3000, 4000, 5000, 6000], "format": "d", "labelPadding": 7, "title": null}}, "color": {"datum": "贵金属(亿元/右)", "type": "nominal"}}}
              ],
              "resolve": {"scale": {"y": "independent"}}
            }
          ],
          "spacing": 67,
          "resolve": {"scale": {"color": "independent"}, "legend": {"color": "independent"}}
        }
      ],
      "spacing": 2,
      "resolve": {"scale": {"color": "independent"}, "legend": {"color": "independent"}}
    }
  ]
}
